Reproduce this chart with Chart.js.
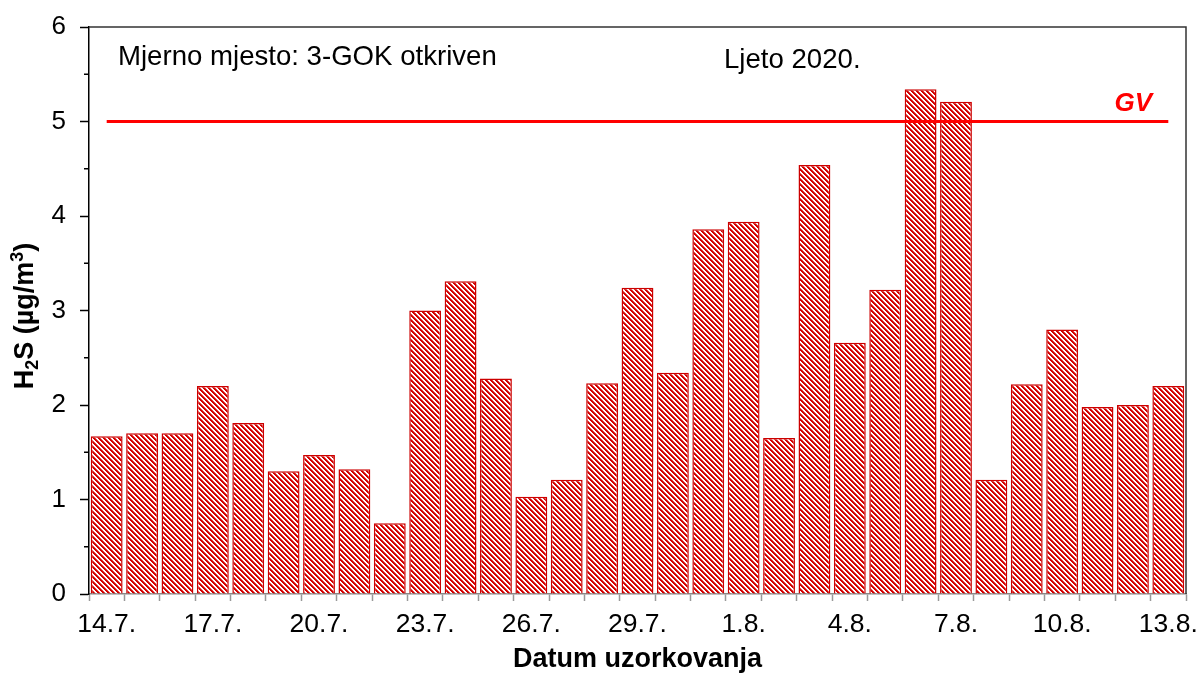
<!DOCTYPE html>
<html><head><meta charset="utf-8">
<script src="https://cdn.jsdelivr.net/npm/chart.js@4.4.1/dist/chart.umd.min.js"></script>
<style>html,body{margin:0;padding:0;background:#fff}#wrap{width:1200px;height:680px;position:relative}</style>
</head><body><div id="wrap"><canvas id="c" width="1200" height="680"></canvas></div>
<script>
const categories = ['14.7.','15.7.','16.7.','17.7.','18.7.','19.7.','20.7.','21.7.','22.7.','23.7.','24.7.','25.7.','26.7.','27.7.','28.7.','29.7.','30.7.','31.7.','1.8.','2.8.','3.8.','4.8.','5.8.','6.8.','7.8.','8.8.','9.8.','10.8.','11.8.','12.8.','13.8.'];
const h2sValues = [1.67,1.70,1.70,2.20,1.81,1.30,1.47,1.32,0.75,3.00,3.31,2.28,1.03,1.21,2.23,3.24,2.34,3.86,3.94,1.65,4.54,2.66,3.22,5.34,5.21,1.21,2.22,2.80,1.98,2.00,2.20];
const yTickValues = [0,1,2,3,4,5,6];
const gvLimit = 5;
const gvLabel = 'GV';
const noteLeft = 'Mjerno mjesto: 3-GOK otkriven';
const noteRight = 'Ljeto 2020.';
const xTitle = 'Datum uzorkovanja';
const yTitleParts = [['H','n'],['2','sub'],['S (µg/m','n'],['3','sup'],[')','n']];

const FONT = '"Liberation Sans", Arial, sans-serif';

function makeHatch(){
  const s = 5, c = document.createElement('canvas');
  c.width = s; c.height = s;
  const ctx = c.getContext('2d');
  const img = ctx.createImageData(s, s);
  for (let y = 0; y < s; y++) for (let x = 0; x < s; x++) {
    const m = (((x - y) % s) + s) % s;
    const i = (y * s + x) * 4;
    if (m < 2) { img.data[i]=212; img.data[i+1]=0; img.data[i+2]=0; }
    else if (m === 2) { img.data[i]=224; img.data[i+1]=70; img.data[i+2]=70; }
    else { img.data[i]=255; img.data[i+1]=255; img.data[i+2]=255; }
    img.data[i+3]=255;
  }
  ctx.putImageData(img, 0, 0);
  return document.getElementById('c').getContext('2d').createPattern(c, 'repeat');
}

const decor = {
  id: 'decor',
  afterDraw(chart){
    const ctx = chart.ctx, a = chart.chartArea, ys = chart.scales.y;
    ctx.save();
    ctx.strokeStyle = '#333'; ctx.lineWidth = 1.5;
    ctx.beginPath();
    ctx.moveTo(a.left, a.top); ctx.lineTo(a.right, a.top); ctx.lineTo(a.right, a.bottom);
    ctx.stroke();
    ctx.strokeStyle = '#000'; ctx.lineWidth = 1.5;
    for (let i = 0; i < yTickValues.length - 1; i++) {
      const v = (yTickValues[i] + yTickValues[i+1]) / 2;
      const py = ys.getPixelForValue(v);
      ctx.beginPath(); ctx.moveTo(a.left - 5, py); ctx.lineTo(a.left, py); ctx.stroke();
    }
    ctx.fillStyle = '#000';
    ctx.font = '27.6px ' + FONT;
    ctx.textBaseline = 'middle'; ctx.textAlign = 'left';
    ctx.fillText(noteLeft, a.left + 29, a.top + 30);
    ctx.fillText(noteRight, a.left + 635, a.top + 33);
    ctx.fillStyle = '#ff0000';
    ctx.font = 'italic bold 26px ' + FONT;
    ctx.textAlign = 'right';
    ctx.fillText(gvLabel, a.right - 34, ys.getPixelForValue(gvLimit) - 18);
    ctx.fillStyle = '#000';
    ctx.translate(23, 316);
    ctx.rotate(-Math.PI / 2);
    const big = 'bold 27px ' + FONT, small = 'bold 18px ' + FONT;
    let total = 0;
    yTitleParts.forEach(([t, k]) => { ctx.font = k === 'n' ? big : small; total += ctx.measureText(t).width; });
    let x = -total / 2;
    ctx.textAlign = 'left'; ctx.textBaseline = 'alphabetic';
    yTitleParts.forEach(([t, k]) => {
      ctx.font = k === 'n' ? big : small;
      const dy = k === 'sub' ? 5 : (k === 'sup' ? -10 : 0);
      ctx.fillText(t, x, 10 + dy);
      x += ctx.measureText(t).width;
    });
    ctx.restore();
  }
};

new Chart(document.getElementById('c'), {
  data: {
    labels: categories,
    datasets: [
      { type: 'line', data: [{x: categories[0], y: gvLimit}, {x: categories[categories.length-1], y: gvLimit}],
        borderColor: '#ff0000', borderWidth: 3, pointRadius: 0, order: 0 },
      { type: 'bar', data: h2sValues, backgroundColor: makeHatch(), borderColor: '#cc0000', borderWidth: 1.5,
        categoryPercentage: 1, barPercentage: 0.9, order: 1 }
    ]
  },
  options: {
    responsive: false, animation: false, devicePixelRatio: 1,
    layout: { padding: { top: 27, right: 14, left: 0, bottom: 0 } },
    plugins: { legend: { display: false }, tooltip: { enabled: false } },
    scales: {
      x: {
        type: 'category', offset: true,
        grid: { offset: true, drawOnChartArea: false, tickLength: 7, tickColor: '#999', tickWidth: 1.5 },
        border: { color: '#888', width: 1.5 },
        ticks: { autoSkip: false, maxRotation: 0, minRotation: 0, color: '#000', padding: 8,
          font: { family: FONT, size: 26.5 },
          callback: function(v, i){ return i % 3 === 0 ? this.getLabelForValue(v) : ''; } },
        title: { display: true, text: xTitle, color: '#000', font: { family: FONT, size: 27, weight: 'bold' }, padding: { top: 3 } },
        afterFit: s => { s.height = 86; s.paddingLeft = 0; s.paddingRight = 0; }
      },
      y: {
        min: 0, max: 6,
        grid: { drawOnChartArea: false, tickLength: 9, tickColor: '#000', tickWidth: 1.5 },
        border: { color: '#000', width: 1.5 },
        ticks: { stepSize: 1, color: '#000', padding: 14, font: { family: FONT, size: 26 } },
        afterFit: s => { s.width = 89; s.paddingTop = 0; s.paddingBottom = 0; }
      }
    }
  },
  plugins: [decor]
});
</script></body></html>
